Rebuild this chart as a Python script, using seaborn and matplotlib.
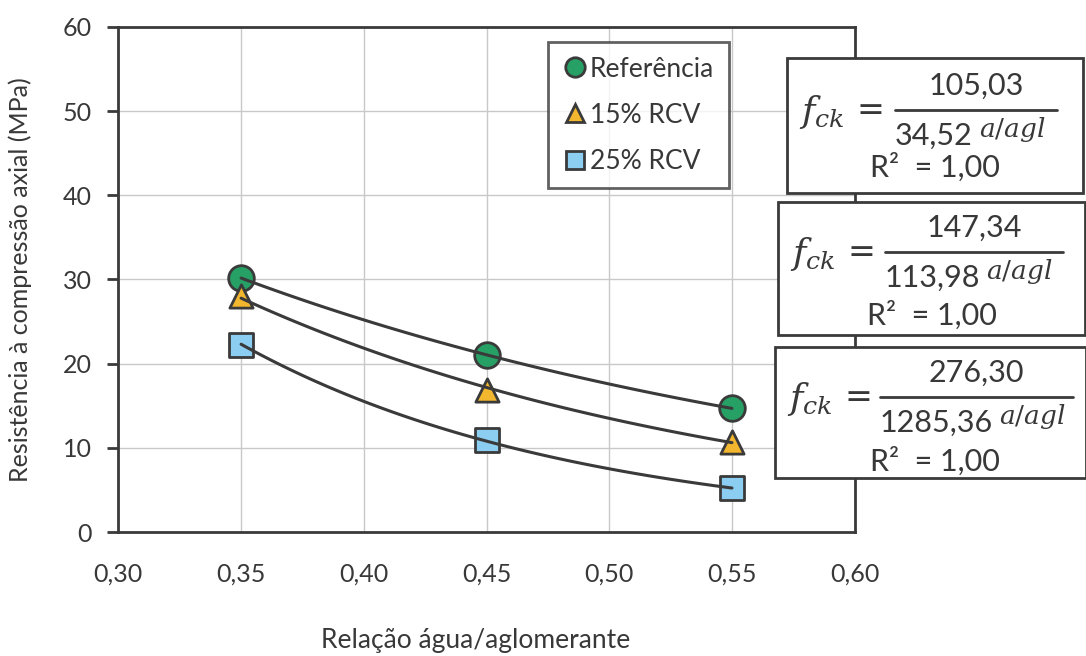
import numpy as np
import pandas as pd
import matplotlib.pyplot as plt
import seaborn as sns
from matplotlib.patches import Rectangle
from matplotlib.lines import Line2D

# relação água/aglomerante e resistência (MPa)
relacao = [0.35, 0.45, 0.55]
referencia = [30.2, 21.0, 14.7]
rcv15 = [28.0, 16.9, 10.7]
rcv25 = [22.2, 10.9, 5.2]

series = ["Referência", "15% RCV", "25% RCV"]
cores = ["#27a065", "#f3b72f", "#8ccdf2"]
marcadores = ["o", "^", "s"]
tamanhos = [340, 280, 300]

# constantes das curvas de Abrams mostradas nas caixas
numeradores = ["105,03", "147,34", "276,30"]
denominadores = ["34,52", "113,98", "1285,36"]
r2 = ["1,00", "1,00", "1,00"]

xticks = [0.30, 0.35, 0.40, 0.45, 0.50, 0.55, 0.60]
yticks = [0, 10, 20, 30, 40, 50, 60]

df = pd.DataFrame({
    "relacao": relacao * 3,
    "fc": referencia + rcv15 + rcv25,
    "serie": [s for s in series for _ in relacao],
})

sns.set_style("white")
plt.rcParams["font.family"] = ["Lato", "DejaVu Sans"]
plt.rcParams["mathtext.fontset"] = "dejavuserif"
cinza = "#3a3a3a"
texto = "#383838"

fig = plt.figure(figsize=(10.86, 6.56), dpi=100)
ax = fig.add_axes([0.109, 0.189, 0.678, 0.770])

# linhas de tendência (ajuste exponencial sobre os pontos, como no Excel)
xx = np.linspace(min(relacao), max(relacao), 100)
for s in series:
    d = df[df.serie == s]
    b, a = np.polyfit(d.relacao, np.log(d.fc), 1)
    sns.lineplot(x=xx, y=np.exp(a + b * xx), color=cinza, lw=2.2, ax=ax, zorder=4)

for s, c, m, t in zip(series, cores, marcadores, tamanhos):
    sns.scatterplot(data=df[df.serie == s], x="relacao", y="fc", color=c, marker=m,
                    s=t, edgecolor=cinza, linewidth=2, ax=ax, zorder=3, legend=False)

ax.set_xlim(0.30, 0.60)
ax.set_ylim(0, 60)
ax.set_xticks(xticks)
ax.set_yticks(yticks)
ax.set_xticklabels([f"{v:.2f}".replace(".", ",") for v in xticks], fontsize=18, color=texto)
ax.set_yticklabels([str(v) for v in yticks], fontsize=18, color=texto)
ax.grid(True, color="#c8c8c8", lw=1)
ax.set_axisbelow(True)
for sp in ax.spines.values():
    sp.set_visible(True)
    sp.set_color(cinza)
    sp.set_linewidth(2)
ax.tick_params(axis="y", length=8, width=2, color=cinza, pad=11, left=True)
ax.tick_params(axis="x", length=0, pad=22)

ax.set_xlabel("Relação água/aglomerante", fontsize=19, color=texto)
ax.set_ylabel("Resistência à compressão axial (MPa)", fontsize=18, color=texto)
ax.xaxis.set_label_coords(0.485, -0.19)
ax.yaxis.set_label_coords(-0.117, 0.5)

handles = [Line2D([], [], ls="none", marker=m, markersize=14 if m == "o" else 13,
                  markerfacecolor=c, markeredgecolor=cinza, markeredgewidth=2)
           for m, c in zip(marcadores, cores)]
leg = ax.legend(handles, series, loc="upper left", bbox_to_anchor=(0.583, 0.97),
                fontsize=19, frameon=True, fancybox=False, handletextpad=0.05,
                handlelength=1.0, labelspacing=0.8, borderpad=0.55, borderaxespad=0)
leg.get_frame().set_edgecolor(cinza)
leg.get_frame().set_linewidth(2)
for t in leg.get_texts():
    t.set_color(texto)

# caixas com as equações (coordenadas em pixels da figura, y a partir do topo)
W, H = 1086, 656
caixas = [(787, 58, 296, 135), (778, 202, 307, 133), (775, 347, 311, 131)]
linhas = [(108, 270, 52), (107, 285, 50), (105, 298, 50)]
r2_pos = [(148, 109), (154, 113), (160, 114)]
renderer = fig.canvas.get_renderer()
for (bx, by, bw, bh), (l0, l1, ly), (rx, ry), num, den, r in zip(
        caixas, linhas, r2_pos, numeradores, denominadores, r2):
    fig.patches.append(Rectangle((bx / W, 1 - (by + bh) / H), bw / W, bh / H,
                                 transform=fig.transFigure, facecolor="white",
                                 edgecolor=cinza, lw=2, zorder=5))
    yl = by + ly
    fig.text((bx + 12) / W, 1 - (yl + 2) / H, r"$f_{ck}$", fontsize=26,
             va="center", ha="left", color=texto, zorder=6)
    fig.text((bx + 79) / W, 1 - (yl - 1) / H, r"$=$", fontsize=24, va="center",
             ha="center", color=texto, zorder=6)
    fig.lines.append(Line2D([(bx + l0) / W, (bx + l1) / W], [1 - yl / H, 1 - yl / H],
                            transform=fig.transFigure, color=cinza, lw=2, zorder=6))
    xc = (bx + (l0 + l1) / 2) / W
    fig.text(xc, 1 - (yl - 10) / H, num, fontsize=22, ha="center",
             va="bottom", color=texto, zorder=6)
    td = fig.text((bx + l0) / W, 1 - (yl + 12) / H, den, fontsize=22, ha="left",
                  va="top", color=texto, zorder=6)
    x_fim = td.get_window_extent(renderer).x1
    fig.text((x_fim + 6) / W, 1 - (yl + 5) / H, r"$a/agl$", fontsize=19,
             ha="left", va="top", color=texto, zorder=6)
    fig.text((bx + rx) / W, 1 - (by + ry) / H, f"R²  = {r}",
             fontsize=22, ha="center", va="center", color=texto, zorder=6)

fig.savefig("out.png", dpi=100)
